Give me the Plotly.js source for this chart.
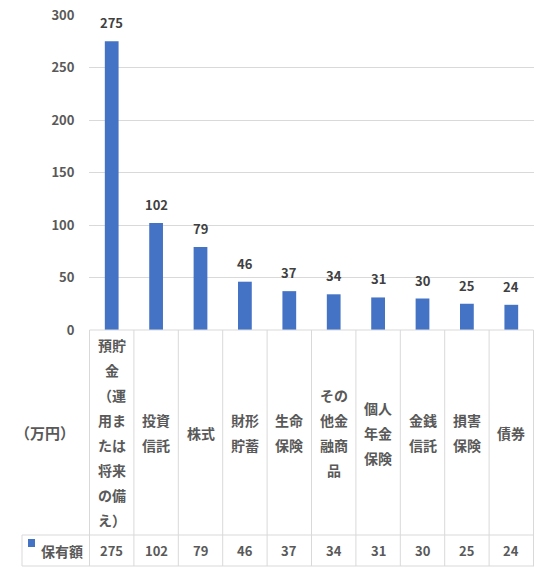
<!DOCTYPE html>
<html>
<head>
<meta charset="utf-8">
<script src="https://cdn.plot.ly/plotly-3.0.1.min.js"></script>
<style>
  html, body { margin: 0; padding: 0; background: #fff; }
  #chart { width: 548px; height: 573px; }
</style>
</head>
<body>
<div id="chart"></div>
<script>
// ── Data ─────────────────────────────────────
const categories = [
  "預貯金（運用または将来の備え）", "投資信託", "株式", "財形貯蓄", "生命保険",
  "その他金融商品", "個人年金保険", "金銭信託", "損害保険", "債券",
];
// wrapped the way the table cells show them
const categoryLines = [
  ["預貯", "金", "（運", "用ま", "たは", "将来", "の備", "え）"],
  ["投資", "信託"],
  ["株式"],
  ["財形", "貯蓄"],
  ["生命", "保険"],
  ["その", "他金", "融商", "品"],
  ["個人", "年金", "保険"],
  ["金銭", "信託"],
  ["損害", "保険"],
  ["債券"],
];
const values = [275, 102, 79, 46, 37, 34, 31, 30, 25, 24];
const seriesName = "保有額";
const unitLabel = "（万円）";
const yTicks = [0, 50, 100, 150, 200, 250, 300];

// ── Layout helpers ───────────────────────────
const FONT = '"Noto Sans CJK JP", "Noto Sans", sans-serif';
const TEXT = "#595959";
const LINE = "#D9D9D9";
const BLUE = "#4472C4";

const W = 548, H = 573;
const M = { l: 89, r: 14, t: 15, b: 243 };
const plotH = H - M.t - M.b;
const plotW = W - M.l - M.r;
// page pixel -> paper coords
const py = (p) => (H - M.b - p) / plotH;
const px = (p) => (p - M.l) / plotW;

const tableTop = 330, catBottom = 535, tableBottom = 566, legendLeft = 22;
const catMid = (tableTop + catBottom) / 2;
const valMid = (catBottom + tableBottom) / 2;
const LINE_STEP = 25;

const trace = {
  type: "bar",
  x: categories,
  y: values,
  name: seriesName,
  marker: { color: BLUE },
  hoverinfo: "skip",
};

// ── Table grid ───────────────────────────────
const lineStyle = { color: LINE, width: 1 };
const shapes = [];
const n = categories.length;
shapes.push({ type: "line", xref: "x", yref: "paper", x0: -0.5, x1: n - 0.5, y0: py(tableTop), y1: py(tableTop), line: lineStyle });
for (let i = 0; i <= n; i++) {
  shapes.push({ type: "line", xref: "x", yref: "paper", x0: i - 0.5, x1: i - 0.5, y0: py(tableTop), y1: py(tableBottom), line: lineStyle });
}
[catBottom, tableBottom].forEach((p) => {
  shapes.push({ type: "line", xref: "paper", yref: "paper", x0: px(legendLeft), x1: 1, y0: py(p), y1: py(p), line: lineStyle });
});
shapes.push({ type: "line", xref: "paper", yref: "paper", x0: px(legendLeft), x1: px(legendLeft), y0: py(catBottom), y1: py(tableBottom), line: lineStyle });
// legend key
shapes.push({ type: "rect", xref: "paper", yref: "paper", x0: px(28), x1: px(35), y0: py(547), y1: py(539), fillcolor: BLUE, line: { width: 0 } });

// ── Texts ────────────────────────────────────
const annotations = [];
// data labels over bars
values.forEach((v, i) => {
  annotations.push({
    xref: "x", yref: "y", x: i, y: v, yanchor: "bottom", yshift: 7,
    text: String(v), showarrow: false,
    font: { family: FONT, size: 13, color: "#404040", weight: "bold" },
  });
});
categoryLines.forEach((lines, i) => {
  const k = lines.length;
  lines.forEach((ln, j) => {
    annotations.push({
      xref: "x", yref: "paper", x: i, y: py(catMid),
      yshift: -((j - (k - 1) / 2) * LINE_STEP),
      text: ln, showarrow: false, yanchor: "middle",
      font: { family: FONT, size: 14, color: TEXT, weight: "bold" },
    });
  });
  annotations.push({
    xref: "x", yref: "paper", x: i, y: py(valMid),
    text: String(values[i]), showarrow: false, yanchor: "middle",
    font: { family: FONT, size: 13, color: TEXT, weight: "bold" },
  });
});
annotations.push({
  xref: "paper", yref: "paper", x: px(39), y: py(valMid), xanchor: "left",
  text: seriesName, showarrow: false, yanchor: "middle",
  font: { family: FONT, size: 14, color: TEXT, weight: "bold" },
});
annotations.push({
  xref: "paper", yref: "paper", x: px(13), y: py(catMid), xanchor: "left",
  text: unitLabel, showarrow: false, yanchor: "middle",
  font: { family: FONT, size: 15, color: TEXT, weight: "bold" },
});

const layout = {
  width: W,
  height: H,
  margin: M,
  paper_bgcolor: "#fff",
  plot_bgcolor: "#fff",
  showlegend: false,
  bargap: 0.69,
  xaxis: {
    type: "category",
    showticklabels: false,
    showgrid: false,
    zeroline: false,
    showline: false,
    fixedrange: true,
  },
  yaxis: {
    range: [0, 300],
    tickvals: yTicks,
    ticktext: yTicks.map(String),
    showgrid: true,
    gridcolor: LINE,
    gridwidth: 1,
    zeroline: false,
    showline: false,
    ticks: "outside",
    ticklen: 11,
    tickcolor: "rgba(0,0,0,0)",
    tickfont: { family: FONT, size: 13, color: TEXT, weight: "bold" },
    fixedrange: true,
  },
  shapes,
  annotations,
};

Plotly.newPlot("chart", [trace], layout, { displayModeBar: false, staticPlot: true });
</script>
</body>
</html>
